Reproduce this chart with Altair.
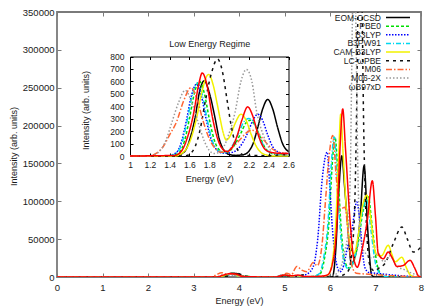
import altair as alt
import pandas as pd

# ---------------- series / styles ----------------
series = ["EOM-CCSD", "PBE0", "B3LYP", "B3PW91", "CAM-B3LYP", "LC-ωPBE", "M06", "M06-2X", "ωB97xD"]
colors = ["#000000", "#00dd00", "#0000ff", "#00d8f0", "#f2f200", "#111111", "#ff6633", "#999999", "#ff0000"]
dashes = [[1, 0], [3, 2], [1.5, 1.5], [5, 2, 1, 2], [1, 0], [3, 4], [6, 2, 1.5, 2], [1.5, 2], [1, 0]]

# ---------------- main panel (0-8 eV) ----------------
m_eom_E = [0, 3.5, 3.7, 3.85, 3.95, 4.1, 4.3, 5.0, 5.2, 5.4, 6.05, 6.12, 6.19, 6.26, 6.32, 6.38, 6.47, 6.56, 6.66, 6.75, 6.83, 6.92, 7.0, 8.0]
m_eom_I = [0, 0, 1500, 5000, 4500, 1000, 0, 0, 1200, 0, 0, 30000, 110000, 160000, 120000, 75000, 18000, 30000, 75000, 147000, 62000, 2000, 0, 0]

m_pbe0_E = [0, 3.5, 3.7, 3.85, 4.0, 4.8, 5.0, 5.2, 5.6, 5.78, 5.88, 5.98, 6.05, 6.11, 6.18, 6.25, 6.33, 6.42, 6.52, 6.62, 6.72, 6.84, 6.93, 7.03, 7.10, 7.17, 7.3, 8.0]
m_pbe0_I = [0, 0, 2000, 4500, 1000, 0, 2500, 0, 500, 4000, 25000, 75000, 150000, 185000, 130000, 60000, 20000, 12000, 20000, 45000, 85000, 106000, 65000, 18000, 5000, 1500, 0, 0]

m_b3lyp_E = [0, 3.5, 3.7, 3.85, 4.0, 4.8, 4.95, 5.1, 5.35, 5.5, 5.63, 5.73, 5.83, 5.94, 5.99, 6.04, 6.12, 6.22, 6.30, 6.37, 6.48, 6.59, 6.66, 6.72, 6.77, 6.85, 7.0, 7.3, 7.6, 8.0]
m_b3lyp_I = [0, 0, 1500, 3500, 800, 0, 2000, 500, 1500, 4000, 13500, 50000, 130000, 165000, 125000, 75000, 25000, 7000, 15000, 35000, 62000, 99000, 70000, 30000, 12000, 6000, 5000, 3000, 1500, 0]

m_b3pw_E = [0, 3.5, 3.7, 3.85, 4.0, 4.8, 5.0, 5.2, 5.6, 5.76, 5.86, 5.96, 6.03, 6.09, 6.16, 6.23, 6.31, 6.40, 6.50, 6.60, 6.70, 6.81, 6.90, 7.0, 7.08, 7.16, 7.3, 8.0]
m_b3pw_I = [0, 0, 2000, 4000, 1000, 0, 2000, 0, 500, 4000, 25000, 75000, 150000, 185000, 130000, 60000, 20000, 11000, 18000, 42000, 82000, 103000, 62000, 18000, 6000, 2000, 0, 0]

m_cam_E = [0, 3.5, 3.7, 3.85, 4.0, 4.8, 5.0, 5.2, 5.8, 5.96, 6.05, 6.13, 6.19, 6.235, 6.29, 6.37, 6.46, 6.53, 6.62, 6.72, 6.81, 6.89, 6.96, 7.03, 7.13, 7.28, 7.36, 7.43, 7.58, 7.68, 7.76, 7.85, 8.0]
m_cam_I = [0, 0, 2000, 4000, 1000, 0, 2000, 0, 500, 3000, 20000, 75000, 160000, 215000, 160000, 80000, 38000, 31000, 55000, 95000, 108000, 80000, 45000, 29000, 28000, 42000, 30000, 20000, 26000, 12000, 3000, 500, 0]

m_lc_E = [0, 3.6, 3.8, 3.95, 4.1, 4.3, 5.1, 5.3, 5.42, 5.55, 6.2, 6.4, 6.52, 6.58, 6.62, 6.66, 6.70, 6.74, 6.80, 6.88, 6.98, 7.08, 7.21, 7.39, 7.58, 7.70, 7.83, 7.92, 8.0]
m_lc_I = [0, 0, 2000, 5000, 2000, 0, 0, 1500, 3000, 0, 1000, 8000, 60000, 200000, 380000, 480000, 380000, 200000, 70000, 15000, 8000, 12000, 18000, 44000, 66000, 50000, 33000, 35000, 40000]

m_m06_E = [0, 3.4, 3.5, 3.62, 3.75, 3.9, 4.1, 4.8, 4.95, 5.05, 5.15, 5.27, 5.38, 5.49, 5.63, 5.72, 5.82, 5.90, 5.98, 6.06, 6.14, 6.22, 6.33, 6.41, 6.48, 6.58, 6.75, 7.0, 7.3, 7.6, 8.0]
m_m06_I = [0, 0, 3000, 5700, 3500, 4000, 500, 0, 2500, 5000, 3000, 14000, 9000, 7000, 19000, 15000, 40000, 100000, 160000, 187000, 130000, 90000, 92000, 50000, 15000, 5000, 4000, 3000, 2000, 1000, 0]

m_m062x_E = [0, 3.5, 3.65, 3.8, 4.0, 4.8, 4.95, 5.1, 5.3, 5.8, 6.1, 6.25, 6.33, 6.40, 6.45, 6.49, 6.53, 6.57, 6.61, 6.66, 6.72, 6.80, 6.92, 7.06, 7.18, 7.32, 7.47, 7.62, 7.8, 8.0]
m_m062x_I = [0, 0, 3000, 4000, 1000, 0, 3000, 2000, 0, 1000, 3000, 15000, 35000, 62000, 150000, 330000, 450000, 330000, 150000, 60000, 38000, 30000, 25000, 31000, 20000, 28000, 14000, 10000, 5000, 2000]

m_wb_E = [0, 3.5, 3.65, 3.8, 3.95, 4.1, 4.8, 5.0, 5.15, 5.3, 5.45, 5.8, 5.95, 6.07, 6.16, 6.22, 6.28, 6.34, 6.44, 6.52, 6.60, 6.70, 6.82, 6.93, 7.00, 7.06, 7.17, 7.28, 7.37, 7.47, 7.60, 7.76, 7.86, 7.95, 8.0]
m_wb_I = [0, 0, 2500, 4500, 3500, 500, 0, 2500, 1500, 2500, 500, 1000, 3000, 22000, 80000, 170000, 222000, 170000, 75000, 25000, 13000, 35000, 75000, 127000, 80000, 31000, 24000, 33000, 25000, 14000, 15000, 22000, 12000, 1000, 0]

# ---------------- inset (1-2.6 eV) ----------------
i_eom_E = [1.0, 1.45, 1.55, 1.60, 1.66, 1.70, 1.75, 1.80, 1.86, 1.90, 1.95, 2.00, 2.07, 2.14, 2.19, 2.24, 2.29, 2.34, 2.39, 2.44, 2.49, 2.54, 2.6]
i_eom_I = [0, 0, 35, 125, 320, 510, 605, 510, 300, 140, 45, 12, 5, 10, 30, 95, 230, 380, 455, 380, 230, 100, 35]

i_pbe0_E = [1.0, 1.40, 1.50, 1.55, 1.60, 1.65, 1.70, 1.75, 1.80, 1.85, 1.90, 1.96, 2.02, 2.07, 2.12, 2.17, 2.215, 2.26, 2.31, 2.36, 2.42, 2.5, 2.6]
i_pbe0_I = [0, 0, 30, 120, 300, 505, 603, 505, 300, 130, 50, 25, 50, 110, 185, 265, 288, 250, 160, 70, 25, 10, 5]

i_b3lyp_E = [1.0, 1.37, 1.47, 1.52, 1.57, 1.62, 1.67, 1.72, 1.77, 1.82, 1.87, 1.93, 2.00, 2.08, 2.14, 2.19, 2.24, 2.29, 2.34, 2.39, 2.44, 2.50, 2.56, 2.6]
i_b3lyp_I = [0, 0, 30, 115, 288, 485, 576, 485, 290, 130, 55, 25, 25, 50, 110, 190, 285, 336, 285, 170, 75, 30, 20, 20]

i_b3pw_E = [1.0, 1.38, 1.48, 1.53, 1.58, 1.63, 1.68, 1.73, 1.78, 1.83, 1.88, 1.94, 2.00, 2.05, 2.10, 2.15, 2.20, 2.25, 2.30, 2.35, 2.42, 2.5, 2.6]
i_b3pw_I = [0, 0, 30, 118, 292, 492, 587, 492, 292, 125, 50, 25, 50, 105, 190, 275, 301, 270, 175, 80, 25, 10, 5]

i_cam_E = [1.0, 1.45, 1.55, 1.62, 1.675, 1.73, 1.793, 1.84, 1.88, 1.91, 1.94, 1.972, 2.01, 2.06, 2.12, 2.17, 2.22, 2.27, 2.32, 2.38, 2.45, 2.6]
i_cam_I = [0, 0, 40, 150, 315, 530, 656, 570, 420, 300, 190, 128, 160, 260, 336, 290, 180, 85, 30, 8, 0, 0]

i_lc_E = [1.0, 1.55, 1.61, 1.66, 1.71, 1.76, 1.82, 1.884, 1.93, 1.98, 2.02, 2.063, 2.11, 2.17, 2.35, 2.5, 2.6]
i_lc_I = [0, 0, 20, 80, 220, 440, 660, 780, 690, 450, 250, 100, 25, 5, 3, 8, 12]

i_m06_E = [1.0, 1.18, 1.25, 1.33, 1.40, 1.47, 1.54, 1.615, 1.68, 1.74, 1.80, 1.86, 1.92, 1.98, 2.05, 2.12, 2.18, 2.23, 2.29, 2.36, 2.43, 2.5, 2.6]
i_m06_I = [0, 0, 15, 70, 170, 275, 440, 549, 450, 275, 140, 60, 30, 40, 80, 140, 190, 208, 185, 120, 60, 30, 20]

i_m062x_E = [1.0, 1.15, 1.22, 1.30, 1.36, 1.42, 1.49, 1.557, 1.62, 1.69, 1.75, 1.80, 1.85, 1.90, 1.95, 2.00, 2.06, 2.12, 2.175, 2.23, 2.28, 2.34, 2.40, 2.45, 2.52, 2.6]
i_m062x_I = [0, 0, 5, 40, 120, 264, 430, 528, 440, 264, 120, 45, 20, 30, 80, 180, 350, 600, 696, 600, 350, 180, 70, 20, 8, 5]

i_wb_E = [1.0, 1.45, 1.52, 1.58, 1.64, 1.69, 1.729, 1.78, 1.827, 1.88, 1.93, 1.98, 2.03, 2.08, 2.13, 2.188, 2.24, 2.29, 2.34, 2.40, 2.5, 2.6]
i_wb_I = [0, 5, 40, 150, 333, 560, 667, 560, 333, 150, 60, 35, 70, 160, 290, 395, 320, 180, 80, 35, 22, 20]

# ---------------- axes ----------------
main_x_domain = [0, 8]
main_y_domain = [0, 350000]
main_x_ticks = [0, 1, 2, 3, 4, 5, 6, 7, 8]
main_y_ticks = [0, 50000, 100000, 150000, 200000, 250000, 300000, 350000]
inset_x_domain = [1, 2.6]
inset_y_domain = [0, 800]
inset_x_ticks = [1, 1.2, 1.4, 1.6, 1.8, 2.0, 2.2, 2.4, 2.6]
inset_y_ticks = [0, 100, 200, 300, 400, 500, 600, 700, 800]

main_E = [m_eom_E, m_pbe0_E, m_b3lyp_E, m_b3pw_E, m_cam_E, m_lc_E, m_m06_E, m_m062x_E, m_wb_E]
main_I = [m_eom_I, m_pbe0_I, m_b3lyp_I, m_b3pw_I, m_cam_I, m_lc_I, m_m06_I, m_m062x_I, m_wb_I]
ins_E = [i_eom_E, i_pbe0_E, i_b3lyp_E, i_b3pw_E, i_cam_E, i_lc_E, i_m06_E, i_m062x_E, i_wb_E]
ins_I = [i_eom_I, i_pbe0_I, i_b3lyp_I, i_b3pw_I, i_cam_I, i_lc_I, i_m06_I, i_m062x_I, i_wb_I]


def long_df(Es, Is):
    rows = []
    for k, (name, xs, ys) in enumerate(zip(series, Es, Is)):
        for x, y in zip(xs, ys):
            rows.append({"series": name, "k": k, "E": x, "I": y})
    return pd.DataFrame(rows)


main_df = long_df(main_E, main_I)
ins_df = long_df(ins_E, ins_I)
main_box = pd.DataFrame({"E": main_x_domain, "I": main_y_domain})
ins_box = pd.DataFrame({"E": inset_x_domain, "I": inset_y_domain})
legend_df = pd.DataFrame({"series": series})

# layout (plot-area pixels; plot origin sits at page (57, 12))
W, H = 364, 265
IL, IR, IT, IB = 73, 231.5, 44.5, 144
LEG_Y0, LEG_Y1 = 5.5, 74.7
LEG_TXT_X, LEG_L, LEG_R = 324, 329, 353

FONT = "Liberation Sans"
TXT = "#1a1a1a"
BORDER = "#7a7a7a"

color_scale = alt.Scale(domain=series, range=colors)
dash_scale = alt.Scale(domain=series, range=dashes)

mx = alt.Scale(domain=main_x_domain, nice=False, zero=False)
my = alt.Scale(domain=main_y_domain, nice=False, zero=False)
ix = alt.Scale(domain=inset_x_domain, range=[IL, IR], nice=False, zero=False)
iy = alt.Scale(domain=inset_y_domain, range=[IB, IT], nice=False, zero=False)

common_lab = dict(labelFont=FONT, labelColor=TXT, titleFont=FONT, titleColor=TXT,
                  titleFontWeight="normal", grid=False, labelOverlap=False, labelFlush=False)

main_lines = alt.Chart(main_df).mark_line(clip=True, strokeWidth=1.5, interpolate="monotone").encode(
    x=alt.X("E:Q", scale=mx, axis=alt.Axis(
        values=main_x_ticks, ticks=False, tickSize=0, domain=False, labelPadding=5,
        labelFontSize=9.5, format="d", title="Energy (eV)", titleFontSize=9,
        titleBaseline="middle", titleX=W / 2, titleY=23, **common_lab)),
    y=alt.Y("I:Q", scale=my, axis=alt.Axis(
        values=main_y_ticks, ticks=False, tickSize=0, domain=False, labelPadding=3,
        labelFontSize=9.5, format="d", title="Intensity (arb. units)", titleFontSize=9,
        titleBaseline="middle", titleX=-44, titleY=134, **common_lab)),
    color=alt.Color("series:N", scale=color_scale, legend=None),
    strokeDash=alt.StrokeDash("series:N", scale=dash_scale, legend=None),
    order=alt.Order("E:Q"),
)

ins_lines = alt.Chart(ins_df).mark_line(strokeWidth=1.5, interpolate="monotone").encode(
    x=alt.X("E:Q", scale=ix, axis=alt.Axis(
        orient="bottom", offset=IB - H, values=inset_x_ticks, ticks=False, tickSize=0,
        domain=True, domainColor="#000000", domainWidth=1, labelPadding=4,
        labelFontSize=8.5, format="~g", title="Energy (eV)", titleFontSize=9,
        titleBaseline="middle", titleX=(IL + IR) / 2, titleY=22, **common_lab)),
    y=alt.Y("I:Q", scale=iy, axis=alt.Axis(
        orient="left", offset=-IL, values=inset_y_ticks, ticks=False, tickSize=0,
        domain=True, domainColor="#000000", domainWidth=1, labelPadding=6,
        labelFontSize=8.5, format="d", title="Intensity (arb. units)", titleFontSize=9,
        titleBaseline="middle", titleX=-45, titleY=98, **common_lab)),
    color=alt.Color("series:N", scale=color_scale, legend=None),
    strokeDash=alt.StrokeDash("series:N", scale=dash_scale, legend=None),
    order=alt.Order("E:Q"),
)

# key (gnuplot style: label on the left, line sample on the right)
leg_y = alt.Y("series:N", scale=alt.Scale(type="point", domain=series, range=[LEG_Y0, LEG_Y1], padding=0), axis=None)
leg_rules = alt.Chart(legend_df).mark_rule(strokeWidth=1.5).encode(
    x=alt.value(LEG_L), x2=alt.value(LEG_R), y=leg_y,
    color=alt.Color("series:N", scale=color_scale, legend=None),
    strokeDash=alt.StrokeDash("series:N", scale=dash_scale, legend=None),
)
leg_text = alt.Chart(legend_df).mark_text(
    align="right", baseline="middle", font=FONT, fontSize=8.5, color=TXT
).encode(x=alt.value(LEG_TXT_X), y=leg_y, text="series:N")
key = alt.layer(leg_rules, leg_text)


def tick_layer(data, xs, ys, xo, xoff, xvals, yo, yoff, yvals, col, size, xdomain=False, ydomain=False, xtitle=None, **xt):
    xa = alt.Axis(orient=xo, offset=xoff, values=xvals, ticks=True, tickSize=size, tickColor=col,
                  tickWidth=1, labels=False, domain=xdomain, domainColor=col, domainWidth=1,
                  grid=False, title=xtitle, titleFont=FONT, titleColor=TXT,
                  titleFontWeight="normal", **xt)
    ya = alt.Axis(orient=yo, offset=yoff, values=yvals, ticks=True, tickSize=size, tickColor=col,
                  tickWidth=1, labels=False, domain=ydomain, domainColor=col, domainWidth=1,
                  grid=False, title=None)
    return alt.Chart(data).mark_point(opacity=0).encode(
        x=alt.X("E:Q", scale=xs, axis=xa), y=alt.Y("I:Q", scale=ys, axis=ya))


main_ticks_a = tick_layer(main_box, mx, my, "top", -H, main_x_ticks, "right", -W, main_y_ticks, BORDER, 4)
main_ticks_b = tick_layer(main_box, mx, my, "bottom", -H, main_x_ticks, "left", -W, main_y_ticks, BORDER, 4)
ins_ticks_a = tick_layer(ins_box, ix, iy, "top", -IB, inset_x_ticks, "right", IL - W, inset_y_ticks, "#000000", 3)
ins_ticks_b = tick_layer(ins_box, ix, iy, "bottom", IT - H, inset_x_ticks, "left", -IR, inset_y_ticks, "#000000", 3,
                         xdomain=True, ydomain=True, xtitle="Low Energy Regime",
                         titleFontSize=9, titleBaseline="middle", titleX=(IL + IR) / 2, titleY=-13)

chart = alt.layer(
    main_lines, ins_lines, key, main_ticks_a, main_ticks_b, ins_ticks_a, ins_ticks_b
).resolve_scale(
    x="independent", y="independent"
).properties(
    width=W, height=H,
    autosize=alt.AutoSizeParams(type="none"),
    padding={"left": 49, "top": 4, "right": 5, "bottom": 29},
    background="white",
).configure_view(
    stroke=BORDER, strokeWidth=1.8
)

chart.save("out.html", embed_options={"renderer": "svg", "actions": False})
